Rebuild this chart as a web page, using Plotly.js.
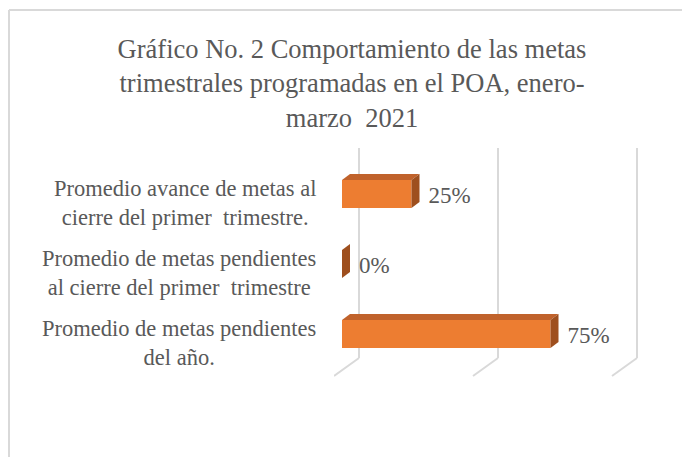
<!DOCTYPE html>
<html><head><meta charset="utf-8">
<script src="https://cdn.plot.ly/plotly-3.0.1.min.js"></script>
<style>html,body{margin:0;padding:0;background:#fff}</style>
</head><body><div id="chart" style="width:682px;height:457px"></div>
<script>
// ---- data ----
const categories = [
  "Promedio avance de metas al<br>cierre del primer  trimestre.",
  "Promedio de metas pendientes<br>al cierre del primer  trimestre",
  "Promedio de metas pendientes<br>del año."
];
const values = [0.25, 0.00, 0.75];
const gridTicks = [0, 0.5, 1];
const titleText = "Gráfico No. 2 Comportamiento de las metas<br>trimestrales programadas en el POA, enero-<br>marzo  2021";

// ---- geometry / style ----
const W = 682, H = 457;
const plotL = 334, plotR = 645, plotT = 140, plotB = 376;
const plotW = plotR - plotL, plotH = plotB - plotT;
const pxX = 278, pxY = 70;
const front0 = 342, idx0 = 194;
const barDepthX = 8 / pxX, barDepthY = 6 / pxY;
const backDx = 17 / pxX, floorDx = -8 / pxX;
const labelGap = 9 / pxX;
const backTopPx = 148, backBotPx = 358;
const barW = 0.4;
const FONT = "Liberation Serif";
const TXT = "#595959";
const cFront = "#ED7D31", cTop = "#C0622B", cSide = "#9E4F1E";

const ypos = categories.map((c, i) => i);
const traces = [];
traces.push({
  type: "bar", orientation: "h", x: values, y: ypos, width: barW,
  marker: {color: cFront, line: {width: 0}}, hoverinfo: "skip", showlegend: false
});
values.forEach((v, i) => {
  const yt = i - barW / 2, yb = i + barW / 2;
  traces.push({
    type: "scatter", mode: "lines", fill: "toself", fillcolor: cTop,
    line: {width: 0, color: cTop},
    x: [0, v, v + barDepthX, barDepthX, 0],
    y: [yt, yt, yt - barDepthY, yt - barDepthY, yt],
    hoverinfo: "skip", showlegend: false
  });
  traces.push({
    type: "scatter", mode: "lines", fill: "toself", fillcolor: cSide,
    line: {width: 0, color: cSide},
    x: [v, v + barDepthX, v + barDepthX, v, v],
    y: [yt, yt - barDepthY, yb - barDepthY, yb, yt],
    hoverinfo: "skip", showlegend: false
  });
});
traces.push({
  type: "scatter", mode: "text",
  x: values.map(v => v + barDepthX + labelGap), y: ypos.map(i => i + 0.05),
  text: values.map(v => Math.round(v * 100) + "%"),
  textposition: "middle right",
  textfont: {family: FONT, size: 23, color: TXT},
  hoverinfo: "skip", showlegend: false
});

const pyBack0 = (plotB - backBotPx) / plotH, pyBack1 = (plotB - backTopPx) / plotH;
const shapes = [];
gridTicks.forEach(t => {
  shapes.push({type: "line", layer: "below", xref: "x", yref: "paper",
    x0: t + backDx, x1: t + backDx, y0: pyBack0, y1: pyBack1,
    line: {color: "#d9d9d9", width: 2}});
  shapes.push({type: "line", layer: "below", xref: "x", yref: "paper",
    x0: t + backDx, x1: t + floorDx, y0: pyBack0, y1: 0,
    line: {color: "#d9d9d9", width: 2}});
});
const px = x => (x - plotL) / plotW, py = y => (plotB - y) / plotH;
shapes.push({type: "line", xref: "paper", yref: "paper", x0: px(9), x1: px(9), y0: py(10), y1: py(H + 5), line: {color: "#d9d9d9", width: 2}});
shapes.push({type: "line", xref: "paper", yref: "paper", x0: px(9), x1: px(W + 5), y0: py(10), y1: py(10), line: {color: "#d9d9d9", width: 2}});

// category labels: each block right-aligned at a common edge, lines centred within the block
const lineOffsets = [-4 / pxY, 22 / pxY];
const annotations = [];
categories.forEach((c, i) => {
  const lines = c.split("<br>");
  const padded = lines; // lines centred inside block via align
  annotations.push({
    text: lines.join("<br>"), xref: "paper", yref: "y", x: px(318),
    y: i + (lineOffsets[0] + lineOffsets[1]) / 2,
    xanchor: "right", yanchor: "middle", align: "center", showarrow: false,
    font: {family: FONT, size: 22.5, color: TXT, lineheight: 1}
  });
});

const layout = {
  width: W, height: H,
  margin: {l: plotL, r: W - plotR, t: plotT, b: H - plotB, pad: 0},
  paper_bgcolor: "#fff", plot_bgcolor: "rgba(0,0,0,0)",
  title: {text: titleText, x: 352 / W, xanchor: "center", xref: "container",
          y: 1 - 58 / H, yanchor: "middle", yref: "container",
          font: {family: FONT, size: 26.5, color: TXT}},
  xaxis: {range: [(plotL - front0) / pxX, (plotR - front0) / pxX], showgrid: false, zeroline: false,
          showticklabels: false, showline: false, fixedrange: true},
  yaxis: {range: [(plotB - idx0) / pxY, (plotT - idx0) / pxY], showgrid: false, zeroline: false,
          showticklabels: false, showline: false, fixedrange: true},
  shapes: shapes, annotations: annotations, showlegend: false
};
Plotly.newPlot("chart", traces, layout, {displayModeBar: false, staticPlot: true});
</script></body></html>
